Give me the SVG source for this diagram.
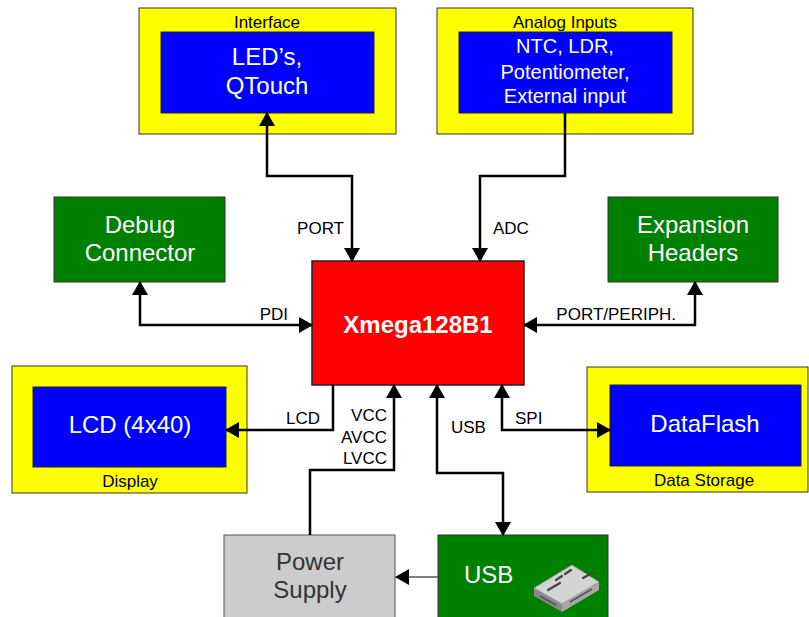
<svg xmlns="http://www.w3.org/2000/svg" width="809" height="617" viewBox="0 0 809 617">
<style>
text{font-family:"Liberation Sans",Arial,sans-serif;}
.outer{fill:#FFFF00;stroke:#333;stroke-width:1;}
.inner{fill:#0000FF;stroke:#222;stroke-width:1;}
.green{fill:#008000;stroke:#333;stroke-width:1;}
.grp{fill:#FFFFFF;font-size:17px;text-anchor:middle;}
.cap{fill:#000;font-size:17px;text-anchor:middle;}
.big{fill:#FFFFFF;font-size:24px;text-anchor:middle;}
.mid{fill:#FFFFFF;font-size:20px;text-anchor:middle;}
.lbl{fill:#000;font-size:17px;}
.wire{fill:none;stroke:#000;stroke-width:2.5;}
.thin{fill:none;stroke:#555;stroke-width:1.5;}
</style>
<defs>
<marker id="ah" viewBox="0 0 14 16" refX="13" refY="8" markerWidth="14" markerHeight="16" markerUnits="userSpaceOnUse" orient="auto-start-reverse">
<path d="M0,0 L14,8 L0,16 z" fill="#000"/>
</marker>
</defs>
<rect width="809" height="617" fill="#FFFFFF"/>

<g id="interface">
<rect class="outer" x="139" y="8" width="257" height="126"/>
<text class="cap" x="267" y="28">Interface</text>
<rect class="inner" x="161" y="32" width="213" height="81"/>
<text class="big" x="267" y="65">LED’s,</text>
<text class="big" x="267" y="94">QTouch</text>
</g>

<g id="analog">
<rect class="outer" x="437" y="8" width="256" height="126"/>
<text class="cap" x="565" y="28">Analog Inputs</text>
<rect class="inner" x="459" y="32" width="213" height="81"/>
<text class="mid" x="565" y="53">NTC, LDR,</text>
<text class="mid" x="565" y="79">Potentiometer,</text>
<text class="mid" x="565" y="103">External input</text>
</g>

<g id="debug">
<rect class="green" x="54" y="197" width="171" height="85"/>
<text class="big" x="140" y="233">Debug</text>
<text class="big" x="140" y="261">Connector</text>
</g>

<g id="expansion">
<rect class="green" x="608" y="197" width="170" height="85"/>
<text class="big" x="693" y="233">Expansion</text>
<text class="big" x="693" y="261">Headers</text>
</g>

<g id="xmega">
<rect x="312" y="261" width="212" height="124" fill="#FF0000" stroke="#222" stroke-width="1.5"/>
<text x="418" y="333" fill="#FFFFFF" font-size="24" font-weight="bold" text-anchor="middle">Xmega128B1</text>
</g>

<g id="display">
<rect class="outer" x="12" y="366" width="235" height="127"/>
<rect class="inner" x="33" y="387" width="193" height="80"/>
<text class="big" x="130" y="433">LCD (4x40)</text>
<text class="cap" x="130" y="487">Display</text>
</g>

<g id="datastorage">
<rect class="outer" x="587" y="367" width="221" height="125"/>
<rect class="inner" x="610" y="385" width="191" height="81"/>
<text class="big" x="705" y="432">DataFlash</text>
<text class="cap" x="704" y="486">Data Storage</text>
</g>

<g id="power">
<rect x="224" y="535" width="171" height="90" fill="#CCCCCC" stroke="#555" stroke-width="1"/>
<text x="310" y="570" fill="#333" font-size="24" text-anchor="middle">Power</text>
<text x="310" y="598" fill="#333" font-size="24" text-anchor="middle">Supply</text>
</g>

<g id="usb">
<rect class="green" x="438" y="535" width="170" height="90"/>
<text x="464" y="583" fill="#FFFFFF" font-size="24">USB</text>
<g id="usb-icon">
<polygon points="534,588 562,604 562,612 534,596" fill="#8a8a8a"/>
<polygon points="562,604 599,582 599,590 562,612" fill="#a8a8a8"/>
<polygon points="534,588 572,565 599,582 562,604" fill="#d4d4d4" stroke="#9a9a9a" stroke-width="0.8"/>
<path d="M548,590 L560,583 M583,578 L592,573 M565,574 L571,570 M556,580 L562,576" stroke="#444" stroke-width="2.2" fill="none" stroke-linecap="round"/>
<path d="M540,596 L556,605 M570,602 L592,589" stroke="#555" stroke-width="1.5" fill="none"/>
</g>
</g>

<g id="connectors">
<path class="wire" d="M267,113 V176 H352 V261" marker-start="url(#ah)" marker-end="url(#ah)"/>
<path class="wire" d="M565,113 V176 H480 V261" marker-end="url(#ah)"/>
<path class="wire" d="M140,282 V325 H312" marker-start="url(#ah)" marker-end="url(#ah)"/>
<path class="wire" d="M695,282 V325 H524" marker-start="url(#ah)" marker-end="url(#ah)"/>
<path class="wire" d="M333,385 V430 H226" marker-end="url(#ah)"/>
<path class="wire" d="M310,535 V470 H394 V385" marker-end="url(#ah)"/>
<path class="wire" d="M437,385 V473 H503 V535" marker-start="url(#ah)" marker-end="url(#ah)"/>
<path class="wire" d="M502,385 V430 H610" marker-start="url(#ah)" marker-end="url(#ah)"/>
<path class="thin" d="M438,577 H396" marker-end="url(#ah)"/>
<text class="lbl" x="344" y="234" text-anchor="end">PORT</text>
<text class="lbl" x="493" y="234">ADC</text>
<text class="lbl" x="288" y="320" text-anchor="end">PDI</text>
<text class="lbl" x="676" y="320" text-anchor="end">PORT/PERIPH.</text>
<text class="lbl" x="320" y="424" text-anchor="end">LCD</text>
<text class="lbl" x="387" y="421" text-anchor="end">VCC</text>
<text class="lbl" x="387" y="443" text-anchor="end">AVCC</text>
<text class="lbl" x="387" y="464" text-anchor="end">LVCC</text>
<text class="lbl" x="451" y="433">USB</text>
<text class="lbl" x="515" y="424">SPI</text>
</g>
</svg>
